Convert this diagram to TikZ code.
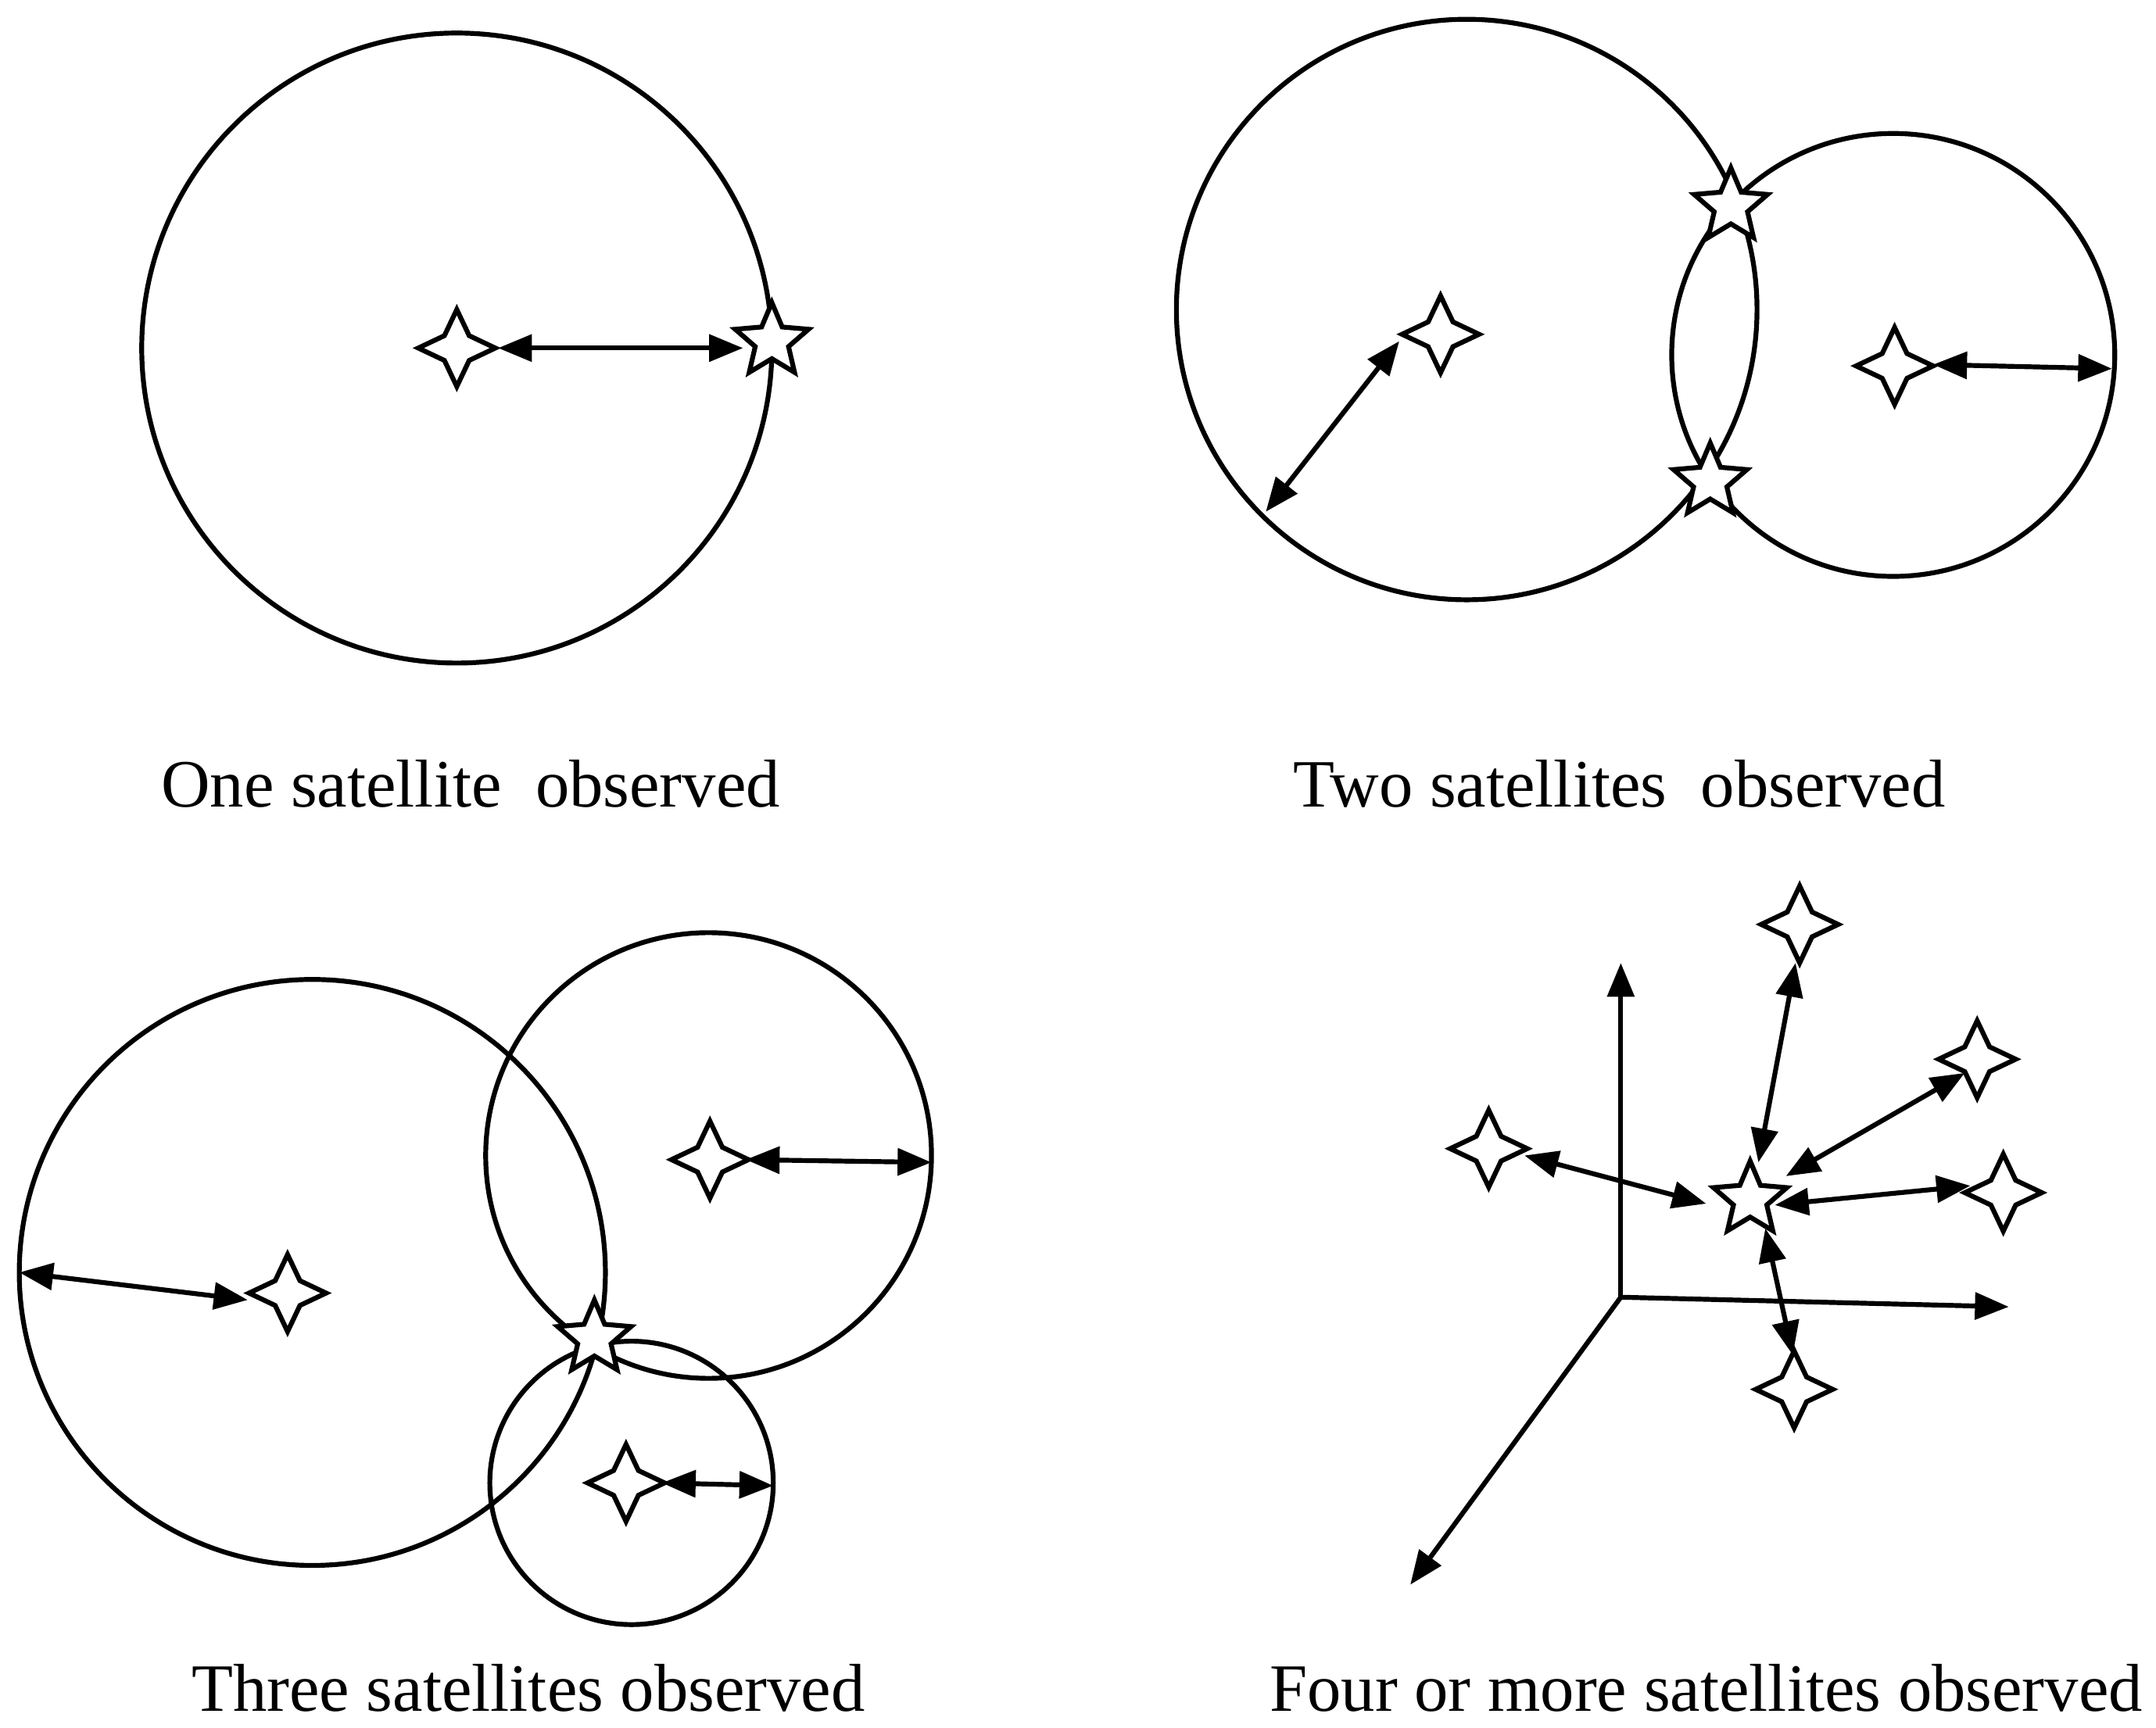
\documentclass[tikz,border=0pt]{standalone}
\usepackage{fontspec}
\setmainfont{Liberation Serif}
\usetikzlibrary{shapes.geometric,arrows.meta}
\newcommand\fourstar[1]{\draw[line width=1pt,fill=white,shift={(#1)}] (0,-28) -- (9,-9) -- (28,0) -- (9,9) -- (0,28) -- (-9,9) -- (-28,0) -- (-9,-9) -- cycle;}
\begin{document}
\begin{tikzpicture}[x=0.01cm,y=-0.01cm,line width=1pt,
  arr/.style={{Triangle[length=7pt,width=5.5pt]}-{Triangle[length=7pt,width=5.5pt]}},
  sarr/.style={-{Triangle[length=7pt,width=5.5pt]}},
  fstar/.style={star,star points=5,star point ratio=2.2,minimum size=0.56cm,inner sep=0pt,draw,fill=white,line width=1pt},
  lab/.style={font=\fontsize{14}{16}\selectfont}]
\useasboundingbox (0,0) rectangle (1567,1256);
% panel 1
\draw (332,253) circle (229);
\coordinate (a1) at (362,253); \coordinate (a2) at (540,253);
\draw[arr] (a1) -- (a2);
\fourstar{332,253}
\node[fstar] (s1) at (561,248) {};
\node[lab] (t1) at (342,570) {One satellite\ \ observed};
% panel 2
\draw (1066,225) circle (211);
\draw (1376,258) circle (161);
\coordinate (b1) at (1017,248); \coordinate (b2) at (920,372);
\coordinate (b3) at (1405,265); \coordinate (b4) at (1535,268);
\draw[arr] (b1) -- (b2);
\draw[arr] (b3) -- (b4);
\fourstar{1047,243}
\fourstar{1377,266}
\node[fstar] (s2) at (1258,150) {};
\node[fstar] (s3) at (1243,350) {};
\node[lab] (t2) at (1177,570) {Two satellites\ \ observed};
% panel 3
\draw (227,925) circle (213);
\draw (515,840) circle (162);
\draw (459,1078) circle (103);
\coordinate (c1) at (14,925); \coordinate (c2) at (180,945);
\coordinate (c3) at (542,843); \coordinate (c4) at (677,845);
\coordinate (c5) at (481,1078); \coordinate (c6) at (562,1080);
\draw[arr] (c1) -- (c2);
\draw[arr] (c3) -- (c4);
\draw[arr] (c5) -- (c6);
\fourstar{209,940}
\fourstar{516,843}
\fourstar{455,1078}
\node[fstar] (s4) at (432,973) {};
\node[lab] (t3) at (384,1227) {Three satellites observed};
% panel 4
\coordinate (o) at (1178,943);
\coordinate (ox) at (1460,950); \coordinate (oy) at (1178,700); \coordinate (oz) at (1025,1152);
\draw[sarr] (o) -- (oy);
\draw[sarr] (o) -- (ox);
\draw[sarr] (o) -- (oz);
\coordinate (d1) at (1278,845); \coordinate (e1) at (1305,700);
\coordinate (d2) at (1298,855); \coordinate (e2) at (1428,780);
\coordinate (d3) at (1240,875); \coordinate (e3) at (1108,840);
\coordinate (d4) at (1290,876); \coordinate (e4) at (1432,862);
\coordinate (d5) at (1283,893); \coordinate (e5) at (1303,985);
\draw[arr] (d1) -- (e1);
\draw[arr] (d2) -- (e2);
\draw[arr] (d3) -- (e3);
\draw[arr] (d4) -- (e4);
\draw[arr] (d5) -- (e5);
\fourstar{1308,672}
\fourstar{1437,770}
\fourstar{1082,835}
\fourstar{1456,867}
\fourstar{1304,1010}
\node[fstar] (s5) at (1272,872) {};
\node[lab] (t4) at (1240,1227) {Four or more satellites observed};
\end{tikzpicture}
\end{document}
